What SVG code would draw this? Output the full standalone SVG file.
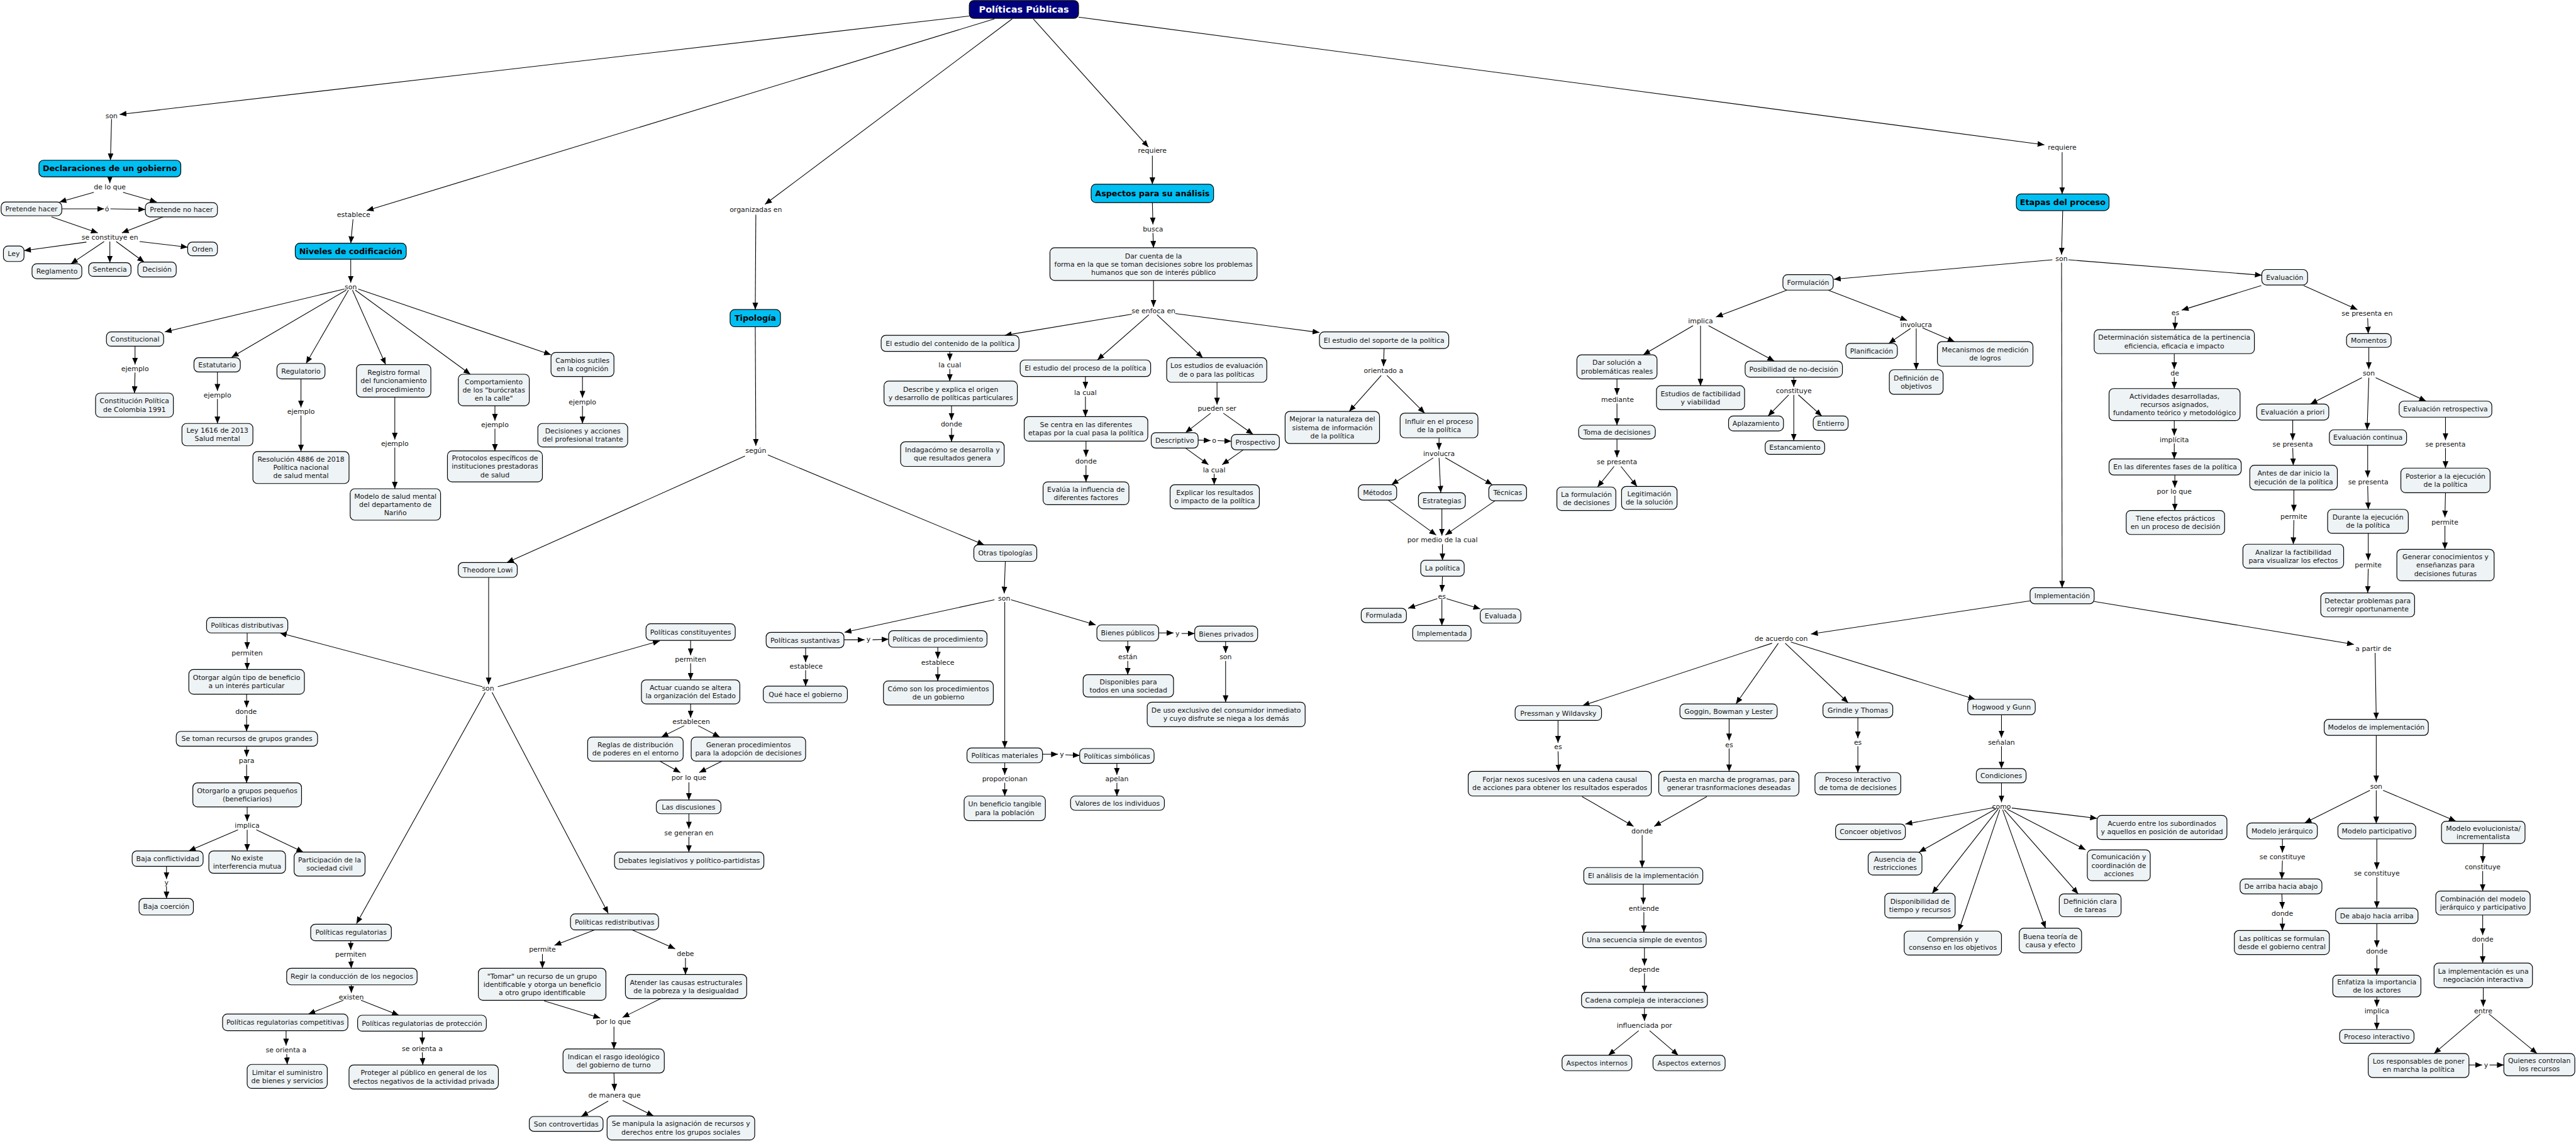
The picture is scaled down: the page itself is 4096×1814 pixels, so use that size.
<svg xmlns="http://www.w3.org/2000/svg" width="4096" height="1814" viewBox="0 0 4096 1814">
<style>
.n{fill:#eef3f5;stroke:#000;stroke-width:1.3}
.h{fill:#00bff2;stroke:#000;stroke-width:1.3}
.tt{fill:#00007e;stroke:#000;stroke-width:1.3}
text{font-family:"DejaVu Sans",Verdana,sans-serif;font-size:12px;text-anchor:middle;fill:#111}
.b{font-weight:bold;font-size:14px;fill:#000}
.w{fill:#fff;font-size:16px;font-weight:bold}
#connectors line{stroke:#000;stroke-width:1.2;marker-end:url(#a)}
</style>
<defs>
<marker id="a" markerUnits="userSpaceOnUse" markerWidth="12" markerHeight="10" refX="12" refY="5" orient="auto"><path d="M0,0 L12,5 L0,10 z" fill="#000"/></marker>
</defs>
<rect width="4096" height="1814" fill="#fff"/>
<g transform="scale(0.9098)">
<g id="connectors">
<line x1="1694" y1="28" x2="209" y2="200"/>
<line x1="1738" y1="33" x2="641" y2="368"/>
<line x1="1769" y1="33" x2="1337" y2="357"/>
<line x1="1806" y1="33" x2="2007" y2="257"/>
<line x1="1885" y1="30" x2="3573" y2="253"/>
<line x1="195" y1="208" x2="193" y2="280"/>
<line x1="192" y1="309" x2="192" y2="320"/>
<line x1="164" y1="336" x2="104" y2="353"/>
<line x1="215" y1="336" x2="274" y2="353"/>
<line x1="108" y1="365" x2="182" y2="365"/>
<line x1="193" y1="365" x2="254" y2="366"/>
<line x1="90" y1="379" x2="171" y2="407"/>
<line x1="285" y1="379" x2="213" y2="407"/>
<line x1="151" y1="423" x2="42" y2="438"/>
<line x1="182" y1="422" x2="124" y2="461"/>
<line x1="192" y1="422" x2="192" y2="459"/>
<line x1="203" y1="422" x2="252" y2="458"/>
<line x1="244" y1="422" x2="328" y2="432"/>
<line x1="617" y1="383" x2="613" y2="425"/>
<line x1="613" y1="453" x2="613" y2="494"/>
<line x1="602" y1="505" x2="288" y2="580"/>
<line x1="605" y1="507" x2="405" y2="624"/>
<line x1="609" y1="507" x2="535" y2="635"/>
<line x1="616" y1="507" x2="674" y2="637"/>
<line x1="621" y1="507" x2="822" y2="654"/>
<line x1="626" y1="505" x2="963" y2="620"/>
<line x1="236" y1="605" x2="236" y2="637"/>
<line x1="236" y1="651" x2="235" y2="687"/>
<line x1="380" y1="650" x2="380" y2="683"/>
<line x1="380" y1="697" x2="380" y2="740"/>
<line x1="526" y1="662" x2="526" y2="712"/>
<line x1="526" y1="726" x2="526" y2="789"/>
<line x1="690" y1="694" x2="690" y2="768"/>
<line x1="690" y1="782" x2="690" y2="854"/>
<line x1="865" y1="709" x2="865" y2="735"/>
<line x1="865" y1="749" x2="865" y2="788"/>
<line x1="1018" y1="658" x2="1018" y2="695"/>
<line x1="1018" y1="709" x2="1018" y2="740"/>
<line x1="1321" y1="375" x2="1320" y2="541"/>
<line x1="1320" y1="571" x2="1321" y2="779"/>
<line x1="1302" y1="797" x2="886" y2="983"/>
<line x1="1342" y1="795" x2="1720" y2="952"/>
<line x1="854" y1="1009" x2="854" y2="1196"/>
<line x1="843" y1="1200" x2="489" y2="1106"/>
<line x1="870" y1="1200" x2="1153" y2="1120"/>
<line x1="848" y1="1210" x2="623" y2="1614"/>
<line x1="860" y1="1210" x2="1063" y2="1596"/>
<line x1="432" y1="1106" x2="432" y2="1134"/>
<line x1="432" y1="1149" x2="432" y2="1170"/>
<line x1="431" y1="1213" x2="431" y2="1236"/>
<line x1="431" y1="1250" x2="431" y2="1278"/>
<line x1="431" y1="1304" x2="431" y2="1322"/>
<line x1="431" y1="1336" x2="431" y2="1368"/>
<line x1="432" y1="1410" x2="432" y2="1435"/>
<line x1="416" y1="1450" x2="330" y2="1487"/>
<line x1="432" y1="1450" x2="432" y2="1487"/>
<line x1="448" y1="1450" x2="530" y2="1489"/>
<line x1="291" y1="1514" x2="291" y2="1536"/>
<line x1="291" y1="1549" x2="291" y2="1570"/>
<line x1="1207" y1="1119" x2="1207" y2="1145"/>
<line x1="1207" y1="1159" x2="1207" y2="1188"/>
<line x1="1207" y1="1230" x2="1207" y2="1254"/>
<line x1="1196" y1="1268" x2="1156" y2="1288"/>
<line x1="1220" y1="1268" x2="1258" y2="1288"/>
<line x1="1153" y1="1330" x2="1189" y2="1350"/>
<line x1="1262" y1="1330" x2="1222" y2="1350"/>
<line x1="1204" y1="1367" x2="1204" y2="1398"/>
<line x1="1204" y1="1422" x2="1204" y2="1448"/>
<line x1="1204" y1="1462" x2="1204" y2="1489"/>
<line x1="613" y1="1644" x2="613" y2="1660"/>
<line x1="613" y1="1674" x2="614" y2="1692"/>
<line x1="614" y1="1721" x2="614" y2="1735"/>
<line x1="600" y1="1748" x2="539" y2="1772"/>
<line x1="631" y1="1748" x2="697" y2="1774"/>
<line x1="500" y1="1801" x2="500" y2="1827"/>
<line x1="501" y1="1842" x2="502" y2="1860"/>
<line x1="738" y1="1802" x2="738" y2="1825"/>
<line x1="738" y1="1839" x2="739" y2="1861"/>
<line x1="1039" y1="1625" x2="969" y2="1652"/>
<line x1="948" y1="1667" x2="948" y2="1692"/>
<line x1="1105" y1="1625" x2="1180" y2="1658"/>
<line x1="1198" y1="1674" x2="1198" y2="1703"/>
<line x1="951" y1="1749" x2="1049" y2="1779"/>
<line x1="1155" y1="1745" x2="1088" y2="1778"/>
<line x1="1073" y1="1794" x2="1073" y2="1833"/>
<line x1="1073" y1="1875" x2="1074" y2="1906"/>
<line x1="1063" y1="1924" x2="1016" y2="1951"/>
<line x1="1088" y1="1923" x2="1142" y2="1950"/>
<line x1="1757" y1="981" x2="1755" y2="1037"/>
<line x1="1738" y1="1048" x2="1476" y2="1105"/>
<line x1="1767" y1="1048" x2="1915" y2="1092"/>
<line x1="1756" y1="1052" x2="1756" y2="1307"/>
<line x1="1475" y1="1118" x2="1511" y2="1118"/>
<line x1="1525" y1="1118" x2="1553" y2="1117"/>
<line x1="1408" y1="1132" x2="1408" y2="1157"/>
<line x1="1408" y1="1171" x2="1408" y2="1199"/>
<line x1="1639" y1="1131" x2="1639" y2="1151"/>
<line x1="1639" y1="1165" x2="1639" y2="1190"/>
<line x1="2025" y1="1106" x2="2051" y2="1106"/>
<line x1="2065" y1="1107" x2="2088" y2="1107"/>
<line x1="1971" y1="1120" x2="1971" y2="1141"/>
<line x1="1971" y1="1155" x2="1971" y2="1179"/>
<line x1="2142" y1="1121" x2="2142" y2="1141"/>
<line x1="2142" y1="1155" x2="2142" y2="1227"/>
<line x1="1822" y1="1318" x2="1849" y2="1318"/>
<line x1="1862" y1="1319" x2="1887" y2="1320"/>
<line x1="1756" y1="1333" x2="1756" y2="1354"/>
<line x1="1756" y1="1368" x2="1756" y2="1391"/>
<line x1="1952" y1="1334" x2="1952" y2="1354"/>
<line x1="1952" y1="1368" x2="1952" y2="1391"/>
<line x1="2014" y1="272" x2="2014" y2="322"/>
<line x1="2014" y1="354" x2="2015" y2="392"/>
<line x1="2015" y1="407" x2="2016" y2="433"/>
<line x1="2016" y1="490" x2="2016" y2="536"/>
<line x1="1978" y1="549" x2="1756" y2="586"/>
<line x1="2008" y1="550" x2="1918" y2="629"/>
<line x1="2022" y1="550" x2="2102" y2="625"/>
<line x1="2054" y1="548" x2="2306" y2="581"/>
<line x1="1660" y1="614" x2="1660" y2="630"/>
<line x1="1660" y1="645" x2="1660" y2="666"/>
<line x1="1663" y1="709" x2="1663" y2="734"/>
<line x1="1663" y1="748" x2="1663" y2="772"/>
<line x1="1897" y1="658" x2="1897" y2="679"/>
<line x1="1897" y1="693" x2="1897" y2="728"/>
<line x1="1898" y1="771" x2="1898" y2="798"/>
<line x1="1898" y1="813" x2="1898" y2="842"/>
<line x1="2127" y1="668" x2="2127" y2="707"/>
<line x1="2116" y1="722" x2="2072" y2="756"/>
<line x1="2138" y1="722" x2="2190" y2="759"/>
<line x1="2094" y1="769" x2="2116" y2="770"/>
<line x1="2128" y1="770" x2="2152" y2="771"/>
<line x1="2072" y1="783" x2="2112" y2="812"/>
<line x1="2173" y1="786" x2="2136" y2="812"/>
<line x1="2122" y1="828" x2="2122" y2="847"/>
<line x1="2419" y1="609" x2="2418" y2="640"/>
<line x1="2414" y1="656" x2="2358" y2="719"/>
<line x1="2424" y1="656" x2="2490" y2="722"/>
<line x1="2515" y1="765" x2="2515" y2="786"/>
<line x1="2505" y1="800" x2="2432" y2="847"/>
<line x1="2515" y1="800" x2="2518" y2="861"/>
<line x1="2526" y1="800" x2="2608" y2="847"/>
<line x1="2426" y1="874" x2="2510" y2="935"/>
<line x1="2520" y1="889" x2="2520" y2="936"/>
<line x1="2613" y1="875" x2="2526" y2="935"/>
<line x1="2521" y1="951" x2="2521" y2="979"/>
<line x1="2521" y1="1007" x2="2520" y2="1034"/>
<line x1="2512" y1="1046" x2="2461" y2="1063"/>
<line x1="2520" y1="1047" x2="2520" y2="1093"/>
<line x1="2528" y1="1046" x2="2587" y2="1064"/>
<line x1="3604" y1="266" x2="3604" y2="339"/>
<line x1="3605" y1="368" x2="3603" y2="445"/>
<line x1="3587" y1="454" x2="3205" y2="488"/>
<line x1="3615" y1="454" x2="3953" y2="481"/>
<line x1="3603" y1="459" x2="3604" y2="1027"/>
<line x1="3123" y1="507" x2="2999" y2="554"/>
<line x1="3195" y1="507" x2="3333" y2="560"/>
<line x1="2959" y1="569" x2="2872" y2="620"/>
<line x1="2972" y1="569" x2="2972" y2="674"/>
<line x1="2986" y1="569" x2="3101" y2="631"/>
<line x1="2826" y1="662" x2="2826" y2="690"/>
<line x1="2826" y1="705" x2="2826" y2="743"/>
<line x1="2826" y1="767" x2="2826" y2="799"/>
<line x1="2821" y1="815" x2="2792" y2="851"/>
<line x1="2833" y1="815" x2="2861" y2="850"/>
<line x1="3135" y1="659" x2="3135" y2="676"/>
<line x1="3126" y1="690" x2="3090" y2="727"/>
<line x1="3135" y1="690" x2="3135" y2="770"/>
<line x1="3143" y1="690" x2="3184" y2="727"/>
<line x1="3339" y1="574" x2="3301" y2="600"/>
<line x1="3349" y1="574" x2="3349" y2="646"/>
<line x1="3360" y1="573" x2="3416" y2="597"/>
<line x1="3952" y1="499" x2="3813" y2="542"/>
<line x1="3802" y1="553" x2="3801" y2="576"/>
<line x1="3800" y1="618" x2="3800" y2="645"/>
<line x1="3800" y1="659" x2="3800" y2="679"/>
<line x1="3800" y1="735" x2="3800" y2="761"/>
<line x1="3800" y1="775" x2="3800" y2="802"/>
<line x1="3801" y1="830" x2="3801" y2="852"/>
<line x1="3801" y1="866" x2="3801" y2="892"/>
<line x1="4026" y1="499" x2="4120" y2="541"/>
<line x1="4138" y1="556" x2="4139" y2="583"/>
<line x1="4140" y1="607" x2="4140" y2="645"/>
<line x1="4128" y1="660" x2="4038" y2="706"/>
<line x1="4140" y1="660" x2="4137" y2="751"/>
<line x1="4152" y1="660" x2="4240" y2="701"/>
<line x1="4007" y1="734" x2="4007" y2="769"/>
<line x1="4007" y1="783" x2="4008" y2="813"/>
<line x1="4009" y1="856" x2="4009" y2="894"/>
<line x1="4009" y1="909" x2="4008" y2="951"/>
<line x1="4138" y1="778" x2="4138" y2="834"/>
<line x1="4138" y1="849" x2="4139" y2="890"/>
<line x1="4139" y1="932" x2="4139" y2="979"/>
<line x1="4139" y1="994" x2="4138" y2="1036"/>
<line x1="4274" y1="729" x2="4274" y2="769"/>
<line x1="4274" y1="783" x2="4274" y2="818"/>
<line x1="4274" y1="861" x2="4273" y2="904"/>
<line x1="4273" y1="919" x2="4273" y2="960"/>
<line x1="3548" y1="1050" x2="3165" y2="1108"/>
<line x1="3660" y1="1051" x2="4114" y2="1126"/>
<line x1="4151" y1="1141" x2="4153" y2="1257"/>
<line x1="3097" y1="1124" x2="2766" y2="1233"/>
<line x1="3108" y1="1124" x2="3034" y2="1230"/>
<line x1="3120" y1="1124" x2="3230" y2="1228"/>
<line x1="3130" y1="1122" x2="3452" y2="1222"/>
<line x1="2723" y1="1259" x2="2723" y2="1298"/>
<line x1="2723" y1="1313" x2="2724" y2="1348"/>
<line x1="3022" y1="1256" x2="3022" y2="1294"/>
<line x1="3022" y1="1308" x2="3022" y2="1348"/>
<line x1="3247" y1="1254" x2="3247" y2="1290"/>
<line x1="3247" y1="1304" x2="3247" y2="1350"/>
<line x1="3498" y1="1249" x2="3498" y2="1289"/>
<line x1="3498" y1="1304" x2="3498" y2="1343"/>
<line x1="3498" y1="1368" x2="3498" y2="1402"/>
<line x1="3486" y1="1411" x2="3330" y2="1440"/>
<line x1="3489" y1="1413" x2="3354" y2="1489"/>
<line x1="3492" y1="1414" x2="3377" y2="1561"/>
<line x1="3495" y1="1415" x2="3423" y2="1627"/>
<line x1="3500" y1="1415" x2="3575" y2="1622"/>
<line x1="3503" y1="1415" x2="3632" y2="1562"/>
<line x1="3508" y1="1414" x2="3645" y2="1485"/>
<line x1="3516" y1="1412" x2="3665" y2="1430"/>
<line x1="2765" y1="1392" x2="2855" y2="1444"/>
<line x1="2983" y1="1392" x2="2891" y2="1444"/>
<line x1="2870" y1="1459" x2="2870" y2="1516"/>
<line x1="2872" y1="1545" x2="2872" y2="1580"/>
<line x1="2873" y1="1594" x2="2873" y2="1629"/>
<line x1="2874" y1="1656" x2="2874" y2="1687"/>
<line x1="2874" y1="1701" x2="2874" y2="1734"/>
<line x1="2874" y1="1761" x2="2874" y2="1784"/>
<line x1="2864" y1="1801" x2="2811" y2="1844"/>
<line x1="2883" y1="1801" x2="2933" y2="1844"/>
<line x1="4153" y1="1285" x2="4153" y2="1367"/>
<line x1="4142" y1="1381" x2="4028" y2="1438"/>
<line x1="4153" y1="1381" x2="4153" y2="1439"/>
<line x1="4165" y1="1381" x2="4292" y2="1435"/>
<line x1="3989" y1="1466" x2="3989" y2="1490"/>
<line x1="3989" y1="1504" x2="3988" y2="1536"/>
<line x1="3988" y1="1562" x2="3989" y2="1588"/>
<line x1="3989" y1="1603" x2="3989" y2="1626"/>
<line x1="4154" y1="1466" x2="4154" y2="1519"/>
<line x1="4154" y1="1533" x2="4154" y2="1587"/>
<line x1="4154" y1="1614" x2="4154" y2="1655"/>
<line x1="4154" y1="1669" x2="4154" y2="1704"/>
<line x1="4154" y1="1742" x2="4154" y2="1759"/>
<line x1="4154" y1="1773" x2="4154" y2="1799"/>
<line x1="4340" y1="1474" x2="4339" y2="1508"/>
<line x1="4339" y1="1522" x2="4339" y2="1557"/>
<line x1="4339" y1="1599" x2="4339" y2="1634"/>
<line x1="4339" y1="1648" x2="4339" y2="1683"/>
<line x1="4340" y1="1726" x2="4340" y2="1759"/>
<line x1="4335" y1="1772" x2="4254" y2="1841"/>
<line x1="4350" y1="1772" x2="4434" y2="1841"/>
<line x1="4315" y1="1861" x2="4338" y2="1861"/>
<line x1="4351" y1="1861" x2="4376" y2="1861"/>
</g>
<g id="labels">
<text x="195" y="206.3">son</text>
<text x="192" y="331.3">de lo que</text>
<text x="187" y="369.3">ó</text>
<text x="192" y="418.3">se constituye en</text>
<text x="618" y="379.3">establece</text>
<text x="613" y="505.3">son</text>
<text x="236" y="648.3">ejemplo</text>
<text x="380" y="694.3">ejemplo</text>
<text x="526" y="723.3">ejemplo</text>
<text x="690" y="779.3">ejemplo</text>
<text x="865" y="746.3">ejemplo</text>
<text x="1018" y="706.3">ejemplo</text>
<text x="1321" y="370.3">organizadas en</text>
<text x="1321" y="791.3">según</text>
<text x="853" y="1207.3">son</text>
<text x="432" y="1145.3">permiten</text>
<text x="430" y="1247.3">donde</text>
<text x="431" y="1333.3">para</text>
<text x="432" y="1446.3">implica</text>
<text x="291" y="1546.3">y</text>
<text x="1207" y="1156.3">permiten</text>
<text x="1208" y="1265.3">establecen</text>
<text x="1204" y="1363.3">por lo que</text>
<text x="1204" y="1459.3">se generan en</text>
<text x="613" y="1671.3">permiten</text>
<text x="614" y="1746.3">existen</text>
<text x="500" y="1839.3">se orienta a</text>
<text x="738" y="1836.3">se orienta a</text>
<text x="948" y="1663.3">permite</text>
<text x="1198" y="1670.3">debe</text>
<text x="1072" y="1789.3">por lo que</text>
<text x="1074" y="1918.3">de manera que</text>
<text x="1755" y="1049.3">son</text>
<text x="1518" y="1121.3">y</text>
<text x="1409" y="1168.3">establece</text>
<text x="1639" y="1162.3">establece</text>
<text x="2058" y="1111.3">y</text>
<text x="1971" y="1152.3">están</text>
<text x="2142" y="1152.3">son</text>
<text x="1856" y="1322.3">y</text>
<text x="1756" y="1365.3">proporcionan</text>
<text x="1952" y="1365.3">apelan</text>
<text x="2014" y="267.3">requiere</text>
<text x="2015" y="404.3">busca</text>
<text x="2016" y="547.3">se enfoca en</text>
<text x="1660" y="642.3">la cual</text>
<text x="1663" y="745.3">donde</text>
<text x="1897" y="690.3">la cual</text>
<text x="1898" y="810.3">donde</text>
<text x="2127" y="718.3">pueden ser</text>
<text x="2122" y="774.3">o</text>
<text x="2122" y="825.3">la cual</text>
<text x="2418" y="652.3">orientado a</text>
<text x="2515" y="797.3">involucra</text>
<text x="2521" y="947.3">por medio de la cual</text>
<text x="2520" y="1046.3">es</text>
<text x="3604" y="261.3">requiere</text>
<text x="3603" y="456.3">son</text>
<text x="2972" y="565.3">implica</text>
<text x="3349" y="571.3">involucra</text>
<text x="2827" y="702.3">mediante</text>
<text x="2826" y="811.3">se presenta</text>
<text x="3135" y="687.3">constituye</text>
<text x="3802" y="550.3">es</text>
<text x="4137" y="552.3">se presenta en</text>
<text x="3801" y="656.3">de</text>
<text x="4140" y="656.3">son</text>
<text x="3800" y="772.3">implícita</text>
<text x="3800" y="863.3">por lo que</text>
<text x="4007" y="780.3">se presenta</text>
<text x="4009" y="906.3">permite</text>
<text x="4139" y="846.3">se presenta</text>
<text x="4139" y="991.3">permite</text>
<text x="4274" y="780.3">se presenta</text>
<text x="4273" y="916.3">permite</text>
<text x="3113" y="1120.3">de acuerdo con</text>
<text x="4148" y="1137.3">a partir de</text>
<text x="2723" y="1309.3">es</text>
<text x="3022" y="1305.3">es</text>
<text x="3247" y="1301.3">es</text>
<text x="3498" y="1301.3">señalan</text>
<text x="3498" y="1413.3">como</text>
<text x="2870" y="1456.3">donde</text>
<text x="2873" y="1591.3">entiende</text>
<text x="2874" y="1698.3">depende</text>
<text x="2874" y="1796.3">influenciada por</text>
<text x="4153" y="1378.3">son</text>
<text x="3989" y="1501.3">se constituye</text>
<text x="3989" y="1600.3">donde</text>
<text x="4154" y="1530.3">se constituye</text>
<text x="4154" y="1666.3">donde</text>
<text x="4154" y="1770.3">implica</text>
<text x="4339" y="1519.3">constituye</text>
<text x="4339" y="1645.3">donde</text>
<text x="4340" y="1770.3">entre</text>
<text x="4345" y="1865.3">y</text>
</g>
<g id="title"><rect class="tt" x="1694" y="1" width="191" height="31" rx="8"/><text class="w" x="1789.5" y="22.5">Políticas Públicas</text></g>
<g id="declaraciones"><rect class="h" x="68" y="280" width="248" height="29" rx="8"/><text class="b" x="192" y="299.5">Declaraciones de un gobierno</text></g>
<g id="niveles"><rect class="h" x="516" y="425" width="194" height="28" rx="8"/><text class="b" x="613" y="444">Niveles de codificación</text></g>
<g id="tipologia"><rect class="h" x="1276" y="541" width="88" height="30" rx="8"/><text class="b" x="1320" y="561">Tipología</text></g>
<g id="aspectos"><rect class="h" x="1907" y="322" width="214" height="32" rx="8"/><text class="b" x="2014" y="343">Aspectos para su análisis</text></g>
<g id="etapas"><rect class="h" x="3524" y="339" width="162" height="29" rx="8"/><text class="b" x="3605" y="358.5">Etapas del proceso</text></g>
<g id="pretende-hacer"><rect class="n" x="2" y="353" width="106" height="24" rx="8"/><text x="55" y="369.3">Pretende hacer</text></g>
<g id="pretende-no"><rect class="n" x="254" y="354" width="126" height="25" rx="8"/><text x="317" y="370.8">Pretende no hacer</text></g>
<g id="ley"><rect class="n" x="6" y="430" width="36" height="27" rx="8"/><text x="24" y="447.8">Ley</text></g>
<g id="reglamento"><rect class="n" x="56" y="461" width="87" height="26" rx="8"/><text x="99.5" y="478.3">Reglamento</text></g>
<g id="sentencia"><rect class="n" x="155" y="459" width="74" height="24" rx="8"/><text x="192" y="475.3">Sentencia</text></g>
<g id="decision"><rect class="n" x="241" y="458" width="67" height="26" rx="8"/><text x="274.5" y="475.3">Decisión</text></g>
<g id="orden"><rect class="n" x="328" y="423" width="52" height="24" rx="8"/><text x="354" y="439.3">Orden</text></g>
<g id="constitucional"><rect class="n" x="186" y="580" width="100" height="25" rx="8"/><text x="236" y="596.8">Constitucional</text></g>
<g id="estatutario"><rect class="n" x="339" y="625" width="81" height="25" rx="8"/><text x="379.5" y="641.8">Estatutario</text></g>
<g id="regulatorio"><rect class="n" x="484" y="635" width="84" height="27" rx="8"/><text x="526" y="652.8">Regulatorio</text></g>
<g id="registro"><rect class="n" x="623" y="637" width="130" height="57" rx="8"/><text><tspan x="688" y="655.3">Registro formal</tspan><tspan x="688" y="669.8">del funcionamiento</tspan><tspan x="688" y="684.3">del procedimiento</tspan></text></g>
<g id="comportamiento"><rect class="n" x="801" y="654" width="124" height="55" rx="8"/><text><tspan x="863" y="671.3">Comportamiento</tspan><tspan x="863" y="685.8">de los "burócratas</tspan><tspan x="863" y="700.3">en la calle"</tspan></text></g>
<g id="cambios"><rect class="n" x="963" y="616" width="110" height="42" rx="8"/><text><tspan x="1018" y="634">Cambios sutiles</tspan><tspan x="1018" y="648.5">en la cognición</tspan></text></g>
<g id="constitucion-pol"><rect class="n" x="167" y="687" width="136" height="42" rx="8"/><text><tspan x="235" y="705">Constitución Política</tspan><tspan x="235" y="719.5">de Colombia 1991</tspan></text></g>
<g id="ley1616"><rect class="n" x="318" y="740" width="124" height="39" rx="8"/><text><tspan x="380" y="756.5">Ley 1616 de 2013</tspan><tspan x="380" y="771">Salud mental</tspan></text></g>
<g id="resolucion"><rect class="n" x="442" y="789" width="168" height="56" rx="8"/><text><tspan x="526" y="806.8">Resolución 4886 de 2018</tspan><tspan x="526" y="821.3">Política nacional</tspan><tspan x="526" y="835.8">de salud mental</tspan></text></g>
<g id="modelo-narino"><rect class="n" x="612" y="854" width="158" height="55" rx="8"/><text><tspan x="691" y="871.3">Modelo de salud mental</tspan><tspan x="691" y="885.8">del departamento de</tspan><tspan x="691" y="900.3">Nariño</tspan></text></g>
<g id="protocolos"><rect class="n" x="782" y="788" width="166" height="54" rx="8"/><text><tspan x="865" y="804.8">Protocolos específicos de</tspan><tspan x="865" y="819.3">instituciones prestadoras</tspan><tspan x="865" y="833.8">de salud</tspan></text></g>
<g id="decisiones-acc"><rect class="n" x="940" y="740" width="157" height="41" rx="8"/><text><tspan x="1018.5" y="757.5">Decisiones y acciones</tspan><tspan x="1018.5" y="772">del profesional tratante</tspan></text></g>
<g id="theodore"><rect class="n" x="801" y="983" width="103" height="26" rx="8"/><text x="852.5" y="1000.3">Theodore Lowi</text></g>
<g id="distributivas"><rect class="n" x="361" y="1079" width="142" height="27" rx="8"/><text x="432" y="1096.8">Políticas distributivas</text></g>
<g id="otorgar"><rect class="n" x="330" y="1170" width="202" height="43" rx="8"/><text><tspan x="431" y="1188.5">Otorgar algún tipo de beneficio</tspan><tspan x="431" y="1203">a un interés particular</tspan></text></g>
<g id="se-toman"><rect class="n" x="308" y="1278" width="247" height="26" rx="8"/><text x="431.5" y="1295.3">Se toman recursos de grupos grandes</text></g>
<g id="otorgarlo"><rect class="n" x="337" y="1368" width="190" height="42" rx="8"/><text><tspan x="432" y="1386">Otorgarlo a grupos pequeños</tspan><tspan x="432" y="1400.5">(beneficiarios)</tspan></text></g>
<g id="baja-conf"><rect class="n" x="231" y="1487" width="124" height="27" rx="8"/><text x="293" y="1504.8">Baja conflictividad</text></g>
<g id="no-existe"><rect class="n" x="365" y="1487" width="134" height="39" rx="8"/><text><tspan x="432" y="1503.5">No existe</tspan><tspan x="432" y="1518">interferencia mutua</tspan></text></g>
<g id="participacion"><rect class="n" x="514" y="1489" width="124" height="42" rx="8"/><text><tspan x="576" y="1507">Participación de la</tspan><tspan x="576" y="1521.5">sociedad civil</tspan></text></g>
<g id="baja-coer"><rect class="n" x="243" y="1570" width="95" height="29" rx="8"/><text x="290.5" y="1588.8">Baja coerción</text></g>
<g id="constituyentes"><rect class="n" x="1129" y="1090" width="156" height="29" rx="8"/><text x="1207" y="1108.8">Políticas constituyentes</text></g>
<g id="actuar"><rect class="n" x="1121" y="1188" width="172" height="42" rx="8"/><text><tspan x="1207" y="1206">Actuar cuando se altera</tspan><tspan x="1207" y="1220.5">la organización del Estado</tspan></text></g>
<g id="reglas"><rect class="n" x="1027" y="1288" width="167" height="42" rx="8"/><text><tspan x="1110.5" y="1306">Reglas de distribución</tspan><tspan x="1110.5" y="1320.5">de poderes en el entorno</tspan></text></g>
<g id="generan"><rect class="n" x="1208" y="1288" width="200" height="42" rx="8"/><text><tspan x="1308" y="1306">Generan procedimientos</tspan><tspan x="1308" y="1320.5">para la adopción de decisiones</tspan></text></g>
<g id="discusiones"><rect class="n" x="1147" y="1398" width="113" height="24" rx="8"/><text x="1203.5" y="1414.3">Las discusiones</text></g>
<g id="debates"><rect class="n" x="1074" y="1489" width="261" height="30" rx="8"/><text x="1204.5" y="1508.3">Debates legislativos y político-partidistas</text></g>
<g id="regulatorias"><rect class="n" x="543" y="1615" width="141" height="29" rx="8"/><text x="613.5" y="1633.8">Políticas regulatorias</text></g>
<g id="regir"><rect class="n" x="501" y="1692" width="228" height="29" rx="8"/><text x="615" y="1710.8">Regir la conducción de los negocios</text></g>
<g id="reg-comp"><rect class="n" x="389" y="1772" width="219" height="29" rx="8"/><text x="498.5" y="1790.8">Políticas regulatorias competitivas</text></g>
<g id="reg-prot"><rect class="n" x="625" y="1774" width="225" height="28" rx="8"/><text x="737.5" y="1792.3">Políticas regulatorias de protección</text></g>
<g id="limitar"><rect class="n" x="432" y="1860" width="140" height="42" rx="8"/><text><tspan x="502" y="1878">Limitar el suministro</tspan><tspan x="502" y="1892.5">de bienes y servicios</tspan></text></g>
<g id="proteger"><rect class="n" x="610" y="1861" width="261" height="42" rx="8"/><text><tspan x="740.5" y="1879">Proteger al público en general de los</tspan><tspan x="740.5" y="1893.5">efectos negativos de la actividad privada</tspan></text></g>
<g id="redistributivas"><rect class="n" x="997" y="1597" width="154" height="28" rx="8"/><text x="1074" y="1615.3">Políticas redistributivas</text></g>
<g id="tomar"><rect class="n" x="836" y="1692" width="223" height="56" rx="8"/><text><tspan x="947.5" y="1709.8">"Tomar" un recurso de un grupo</tspan><tspan x="947.5" y="1724.3">identificable y otorga un beneficio</tspan><tspan x="947.5" y="1738.8">a otro grupo identificable</tspan></text></g>
<g id="atender"><rect class="n" x="1093" y="1703" width="212" height="42" rx="8"/><text><tspan x="1199" y="1721">Atender las causas estructurales</tspan><tspan x="1199" y="1735.5">de la pobreza y la desigualdad</tspan></text></g>
<g id="indican"><rect class="n" x="984" y="1833" width="177" height="42" rx="8"/><text><tspan x="1072.5" y="1851">Indican el rasgo ideológico</tspan><tspan x="1072.5" y="1865.5">del gobierno de turno</tspan></text></g>
<g id="son-contro"><rect class="n" x="925" y="1951" width="129" height="26" rx="8"/><text x="989.5" y="1968.3">Son controvertidas</text></g>
<g id="manipula"><rect class="n" x="1061" y="1950" width="258" height="42" rx="8"/><text><tspan x="1190" y="1968">Se manipula la asignación de recursos y</tspan><tspan x="1190" y="1982.5">derechos entre los grupos sociales</tspan></text></g>
<g id="otras"><rect class="n" x="1702" y="952" width="110" height="29" rx="8"/><text x="1757" y="970.8">Otras tipologías</text></g>
<g id="sustantivas"><rect class="n" x="1339" y="1105" width="136" height="27" rx="8"/><text x="1407" y="1122.8">Políticas sustantivas</text></g>
<g id="procedimiento"><rect class="n" x="1553" y="1102" width="172" height="29" rx="8"/><text x="1639" y="1120.8">Políticas de procedimiento</text></g>
<g id="que-hace"><rect class="n" x="1334" y="1199" width="147" height="29" rx="8"/><text x="1407.5" y="1217.8">Qué hace el gobierno</text></g>
<g id="como-son"><rect class="n" x="1544" y="1190" width="192" height="42" rx="8"/><text><tspan x="1640" y="1208">Cómo son los procedimientos</tspan><tspan x="1640" y="1222.5">de un gobierno</tspan></text></g>
<g id="bienes-pub"><rect class="n" x="1917" y="1092" width="108" height="28" rx="8"/><text x="1971" y="1110.3">Bienes públicos</text></g>
<g id="bienes-priv"><rect class="n" x="2088" y="1094" width="110" height="27" rx="8"/><text x="2143" y="1111.8">Bienes privados</text></g>
<g id="disponibles"><rect class="n" x="1893" y="1179" width="158" height="39" rx="8"/><text><tspan x="1972" y="1195.5">Disponibles para</tspan><tspan x="1972" y="1210">todos en una sociedad</tspan></text></g>
<g id="uso-exclusivo"><rect class="n" x="2005" y="1227" width="276" height="43" rx="8"/><text><tspan x="2143" y="1245.5">De uso exclusivo del consumidor inmediato</tspan><tspan x="2143" y="1260">y cuyo disfrute se niega a los demás</tspan></text></g>
<g id="materiales"><rect class="n" x="1690" y="1307" width="132" height="26" rx="8"/><text x="1756" y="1324.3">Políticas materiales</text></g>
<g id="simbolicas"><rect class="n" x="1887" y="1308" width="130" height="26" rx="8"/><text x="1952" y="1325.3">Políticas simbólicas</text></g>
<g id="beneficio"><rect class="n" x="1685" y="1391" width="142" height="43" rx="8"/><text><tspan x="1756" y="1409.5">Un beneficio tangible</tspan><tspan x="1756" y="1424">para la población</tspan></text></g>
<g id="valores"><rect class="n" x="1871" y="1391" width="164" height="25" rx="8"/><text x="1953" y="1407.8">Valores de los individuos</text></g>
<g id="dar-cuenta"><rect class="n" x="1835" y="433" width="362" height="57" rx="8"/><text><tspan x="2016" y="451.3">Dar cuenta de la</tspan><tspan x="2016" y="465.8">forma en la que se toman decisiones sobre los problemas</tspan><tspan x="2016" y="480.3">humanos que son de interés público</tspan></text></g>
<g id="contenido"><rect class="n" x="1540" y="586" width="241" height="28" rx="8"/><text x="1660.5" y="604.3">El estudio del contenido de la política</text></g>
<g id="proceso"><rect class="n" x="1783" y="629" width="228" height="29" rx="8"/><text x="1897" y="647.8">El estudio del proceso de la política</text></g>
<g id="evaluacion-est"><rect class="n" x="2039" y="625" width="175" height="43" rx="8"/><text><tspan x="2126.5" y="643.5">Los estudios de evaluación</tspan><tspan x="2126.5" y="658">de o para las políticas</tspan></text></g>
<g id="soporte"><rect class="n" x="2306" y="580" width="226" height="29" rx="8"/><text x="2419" y="598.8">El estudio del soporte de la política</text></g>
<g id="describe"><rect class="n" x="1545" y="666" width="233" height="43" rx="8"/><text><tspan x="1661.5" y="684.5">Describe y explica el origen</tspan><tspan x="1661.5" y="699">y desarrollo de políticas particulares</tspan></text></g>
<g id="indaga"><rect class="n" x="1574" y="772" width="181" height="43" rx="8"/><text><tspan x="1664.5" y="790.5">Indagacómo se desarrolla y</tspan><tspan x="1664.5" y="805">que resultados genera</tspan></text></g>
<g id="se-centra"><rect class="n" x="1790" y="728" width="216" height="43" rx="8"/><text><tspan x="1898" y="746.5">Se centra en las diferentes</tspan><tspan x="1898" y="761">etapas por la cual pasa la política</tspan></text></g>
<g id="evalua"><rect class="n" x="1823" y="842" width="150" height="40" rx="8"/><text><tspan x="1898" y="859">Evalúa la influencia de</tspan><tspan x="1898" y="873.5">diferentes factores</tspan></text></g>
<g id="descriptivo"><rect class="n" x="2012" y="756" width="82" height="27" rx="8"/><text x="2053" y="773.8">Descriptivo</text></g>
<g id="prospectivo"><rect class="n" x="2152" y="759" width="84" height="27" rx="8"/><text x="2194" y="776.8">Prospectivo</text></g>
<g id="explicar"><rect class="n" x="2045" y="847" width="156" height="42" rx="8"/><text><tspan x="2123" y="865">Explicar los resultados</tspan><tspan x="2123" y="879.5">o impacto de la política</tspan></text></g>
<g id="mejorar"><rect class="n" x="2246" y="719" width="165" height="56" rx="8"/><text><tspan x="2328.5" y="736.8">Mejorar la naturaleza del</tspan><tspan x="2328.5" y="751.3">sistema de información</tspan><tspan x="2328.5" y="765.8">de la política</tspan></text></g>
<g id="influir"><rect class="n" x="2447" y="722" width="136" height="43" rx="8"/><text><tspan x="2515" y="740.5">Influir en el proceso</tspan><tspan x="2515" y="755">de la política</tspan></text></g>
<g id="metodos"><rect class="n" x="2374" y="847" width="67" height="27" rx="8"/><text x="2407.5" y="864.8">Métodos</text></g>
<g id="estrategias"><rect class="n" x="2479" y="861" width="82" height="28" rx="8"/><text x="2520" y="879.3">Estrategias</text></g>
<g id="tecnicas"><rect class="n" x="2602" y="847" width="66" height="28" rx="8"/><text x="2635" y="865.3">Técnicas</text></g>
<g id="la-politica"><rect class="n" x="2483" y="979" width="76" height="28" rx="8"/><text x="2521" y="997.3">La política</text></g>
<g id="formulada"><rect class="n" x="2379" y="1063" width="79" height="25" rx="8"/><text x="2418.5" y="1079.8">Formulada</text></g>
<g id="implementada"><rect class="n" x="2469" y="1093" width="102" height="27" rx="8"/><text x="2520" y="1110.8">Implementada</text></g>
<g id="evaluada"><rect class="n" x="2587" y="1064" width="71" height="25" rx="8"/><text x="2622.5" y="1080.8">Evaluada</text></g>
<g id="formulacion"><rect class="n" x="3116" y="480" width="88" height="27" rx="8"/><text x="3160" y="497.8">Formulación</text></g>
<g id="dar-solucion"><rect class="n" x="2756" y="620" width="140" height="42" rx="8"/><text><tspan x="2826" y="638">Dar solución a</tspan><tspan x="2826" y="652.5">problemáticas reales</tspan></text></g>
<g id="estudios-fact"><rect class="n" x="2895" y="674" width="154" height="42" rx="8"/><text><tspan x="2972" y="692">Estudios de factibilidad</tspan><tspan x="2972" y="706.5">y viabilidad</tspan></text></g>
<g id="no-decision"><rect class="n" x="3050" y="631" width="170" height="28" rx="8"/><text x="3135" y="649.3">Posibilidad de no-decisión</text></g>
<g id="toma-dec"><rect class="n" x="2759" y="743" width="134" height="24" rx="8"/><text x="2826" y="759.3">Toma de decisiones</text></g>
<g id="formulacion-dec"><rect class="n" x="2721" y="851" width="103" height="41" rx="8"/><text><tspan x="2772.5" y="868.5">La formulación</tspan><tspan x="2772.5" y="883">de decisiones</tspan></text></g>
<g id="legitimacion"><rect class="n" x="2834" y="850" width="97" height="40" rx="8"/><text><tspan x="2882.5" y="867">Legitimación</tspan><tspan x="2882.5" y="881.5">de la solución</tspan></text></g>
<g id="aplazamiento"><rect class="n" x="3021" y="727" width="96" height="26" rx="8"/><text x="3069" y="744.3">Aplazamiento</text></g>
<g id="entierro"><rect class="n" x="3169" y="727" width="61" height="25" rx="8"/><text x="3199.5" y="743.8">Entierro</text></g>
<g id="estancamiento"><rect class="n" x="3085" y="770" width="104" height="24" rx="8"/><text x="3137" y="786.3">Estancamiento</text></g>
<g id="planificacion"><rect class="n" x="3226" y="600" width="90" height="26" rx="8"/><text x="3271" y="617.3">Planificación</text></g>
<g id="definicion-obj"><rect class="n" x="3302" y="646" width="94" height="43" rx="8"/><text><tspan x="3349" y="664.5">Definición de</tspan><tspan x="3349" y="679">objetivos</tspan></text></g>
<g id="mecanismos"><rect class="n" x="3386" y="597" width="167" height="43" rx="8"/><text><tspan x="3469.5" y="615.5">Mecanismos de medición</tspan><tspan x="3469.5" y="630">de logros</tspan></text></g>
<g id="evaluacion"><rect class="n" x="3953" y="471" width="80" height="27" rx="8"/><text x="3993" y="488.8">Evaluación</text></g>
<g id="determinacion"><rect class="n" x="3660" y="576" width="280" height="42" rx="8"/><text><tspan x="3800" y="594">Determinación sistemática de la pertinencia</tspan><tspan x="3800" y="608.5">eficiencia, eficacia e impacto</tspan></text></g>
<g id="actividades"><rect class="n" x="3686" y="679" width="229" height="56" rx="8"/><text><tspan x="3800.5" y="696.8">Actividades desarrolladas,</tspan><tspan x="3800.5" y="711.3">recursos asignados,</tspan><tspan x="3800.5" y="725.8">fundamento teórico y metodológico</tspan></text></g>
<g id="en-las-fases"><rect class="n" x="3686" y="802" width="231" height="28" rx="8"/><text x="3801.5" y="820.3">En las diferentes fases de la política</text></g>
<g id="tiene-efectos"><rect class="n" x="3716" y="892" width="172" height="42" rx="8"/><text><tspan x="3802" y="910">Tiene efectos prácticos</tspan><tspan x="3802" y="924.5">en un proceso de decisión</tspan></text></g>
<g id="momentos"><rect class="n" x="4101" y="583" width="78" height="24" rx="8"/><text x="4140" y="599.3">Momentos</text></g>
<g id="ev-priori"><rect class="n" x="3944" y="706" width="126" height="28" rx="8"/><text x="4007" y="724.3">Evaluación a priori</text></g>
<g id="ev-continua"><rect class="n" x="4071" y="751" width="135" height="27" rx="8"/><text x="4138.5" y="768.8">Evaluación continua</text></g>
<g id="ev-retro"><rect class="n" x="4193" y="701" width="162" height="28" rx="8"/><text x="4274" y="719.3">Evaluación retrospectiva</text></g>
<g id="antes"><rect class="n" x="3932" y="813" width="153" height="43" rx="8"/><text><tspan x="4008.5" y="831.5">Antes de dar inicio la</tspan><tspan x="4008.5" y="846">ejecución de la política</tspan></text></g>
<g id="analizar"><rect class="n" x="3920" y="951" width="176" height="42" rx="8"/><text><tspan x="4008" y="969">Analizar la factibilidad</tspan><tspan x="4008" y="983.5">para visualizar los efectos</tspan></text></g>
<g id="durante"><rect class="n" x="4068" y="890" width="141" height="42" rx="8"/><text><tspan x="4138.5" y="908">Durante la ejecución</tspan><tspan x="4138.5" y="922.5">de la política</tspan></text></g>
<g id="detectar"><rect class="n" x="4056" y="1036" width="164" height="42" rx="8"/><text><tspan x="4138" y="1054">Detectar problemas para</tspan><tspan x="4138" y="1068.5">corregir oportunamente</tspan></text></g>
<g id="posterior"><rect class="n" x="4196" y="818" width="156" height="43" rx="8"/><text><tspan x="4274" y="836.5">Posterior a la ejecución</tspan><tspan x="4274" y="851">de la política</tspan></text></g>
<g id="generar"><rect class="n" x="4189" y="960" width="170" height="55" rx="8"/><text><tspan x="4274" y="977.3">Generar conocimientos y</tspan><tspan x="4274" y="991.8">enseñanzas para</tspan><tspan x="4274" y="1006.3">decisiones futuras</tspan></text></g>
<g id="implementacion"><rect class="n" x="3548" y="1027" width="112" height="28" rx="8"/><text x="3604" y="1045.3">Implementación</text></g>
<g id="pressman"><rect class="n" x="2648" y="1233" width="151" height="26" rx="8"/><text x="2723.5" y="1250.3">Pressman y Wildavsky</text></g>
<g id="goggin"><rect class="n" x="2936" y="1230" width="170" height="26" rx="8"/><text x="3021" y="1247.3">Goggin, Bowman y Lester</text></g>
<g id="grindle"><rect class="n" x="3186" y="1228" width="122" height="26" rx="8"/><text x="3247" y="1245.3">Grindle y Thomas</text></g>
<g id="hogwood"><rect class="n" x="3439" y="1222" width="118" height="27" rx="8"/><text x="3498" y="1239.8">Hogwood y Gunn</text></g>
<g id="forjar"><rect class="n" x="2566" y="1348" width="320" height="43" rx="8"/><text><tspan x="2726" y="1366.5">Forjar nexos sucesivos en una cadena causal</tspan><tspan x="2726" y="1381">de acciones para obtener los resultados esperados</tspan></text></g>
<g id="puesta"><rect class="n" x="2899" y="1348" width="245" height="43" rx="8"/><text><tspan x="3021.5" y="1366.5">Puesta en marcha de programas, para</tspan><tspan x="3021.5" y="1381">generar trasnformaciones deseadas</tspan></text></g>
<g id="proceso-int-dec"><rect class="n" x="3172" y="1350" width="150" height="39" rx="8"/><text><tspan x="3247" y="1366.5">Proceso interactivo</tspan><tspan x="3247" y="1381">de toma de decisiones</tspan></text></g>
<g id="condiciones"><rect class="n" x="3454" y="1343" width="87" height="25" rx="8"/><text x="3497.5" y="1359.8">Condiciones</text></g>
<g id="analisis-impl"><rect class="n" x="2768" y="1516" width="208" height="29" rx="8"/><text x="2872" y="1534.8">El análisis de la implementación</text></g>
<g id="secuencia"><rect class="n" x="2766" y="1629" width="216" height="27" rx="8"/><text x="2874" y="1646.8">Una secuencia simple de eventos</text></g>
<g id="cadena"><rect class="n" x="2764" y="1734" width="220" height="27" rx="8"/><text x="2874" y="1751.8">Cadena compleja de interacciones</text></g>
<g id="asp-int"><rect class="n" x="2730" y="1844" width="122" height="27" rx="8"/><text x="2791" y="1861.8">Aspectos internos</text></g>
<g id="asp-ext"><rect class="n" x="2889" y="1844" width="126" height="27" rx="8"/><text x="2952" y="1861.8">Aspectos externos</text></g>
<g id="concoer"><rect class="n" x="3208" y="1440" width="122" height="27" rx="8"/><text x="3269" y="1457.8">Concoer objetivos</text></g>
<g id="ausencia"><rect class="n" x="3265" y="1489" width="94" height="40" rx="8"/><text><tspan x="3312" y="1506">Ausencia de</tspan><tspan x="3312" y="1520.5">restricciones</tspan></text></g>
<g id="disponibilidad"><rect class="n" x="3294" y="1561" width="123" height="43" rx="8"/><text><tspan x="3355.5" y="1579.5">Disponibilidad de</tspan><tspan x="3355.5" y="1594">tiempo y recursos</tspan></text></g>
<g id="comprension"><rect class="n" x="3328" y="1627" width="170" height="42" rx="8"/><text><tspan x="3413" y="1645">Comprensión y</tspan><tspan x="3413" y="1659.5">consenso en los objetivos</tspan></text></g>
<g id="buena-teoria"><rect class="n" x="3529" y="1622" width="109" height="43" rx="8"/><text><tspan x="3583.5" y="1640.5">Buena teoría de</tspan><tspan x="3583.5" y="1655">causa y efecto</tspan></text></g>
<g id="definicion-clara"><rect class="n" x="3599" y="1562" width="108" height="40" rx="8"/><text><tspan x="3653" y="1579">Definición clara</tspan><tspan x="3653" y="1593.5">de tareas</tspan></text></g>
<g id="comunicacion"><rect class="n" x="3648" y="1485" width="110" height="54" rx="8"/><text><tspan x="3703" y="1501.8">Comunicación y</tspan><tspan x="3703" y="1516.3">coordinación de</tspan><tspan x="3703" y="1530.8">acciones</tspan></text></g>
<g id="acuerdo"><rect class="n" x="3665" y="1425" width="227" height="42" rx="8"/><text><tspan x="3778.5" y="1443">Acuerdo entre los subordinados</tspan><tspan x="3778.5" y="1457.5">y aquellos en posición de autoridad</tspan></text></g>
<g id="modelos-impl"><rect class="n" x="4062" y="1257" width="182" height="28" rx="8"/><text x="4153" y="1275.3">Modelos de implementación</text></g>
<g id="jerarquico"><rect class="n" x="3927" y="1438" width="123" height="28" rx="8"/><text x="3988.5" y="1456.3">Modelo jerárquico</text></g>
<g id="participativo"><rect class="n" x="4086" y="1439" width="136" height="27" rx="8"/><text x="4154" y="1456.8">Modelo participativo</text></g>
<g id="evolucionista"><rect class="n" x="4267" y="1435" width="146" height="39" rx="8"/><text><tspan x="4340" y="1451.5">Modelo evolucionista/</tspan><tspan x="4340" y="1466">incrementalista</tspan></text></g>
<g id="arriba-abajo"><rect class="n" x="3915" y="1536" width="143" height="26" rx="8"/><text x="3986.5" y="1553.3">De arriba hacia abajo</text></g>
<g id="las-politicas"><rect class="n" x="3905" y="1626" width="166" height="42" rx="8"/><text><tspan x="3988" y="1644">Las políticas se formulan</tspan><tspan x="3988" y="1658.5">desde el gobierno central</tspan></text></g>
<g id="abajo-arriba"><rect class="n" x="4082" y="1587" width="144" height="27" rx="8"/><text x="4154" y="1604.8">De abajo hacia arriba</text></g>
<g id="enfatiza"><rect class="n" x="4077" y="1704" width="154" height="38" rx="8"/><text><tspan x="4154" y="1720">Enfatiza la importancia</tspan><tspan x="4154" y="1734.5">de los actores</tspan></text></g>
<g id="proceso-interactivo"><rect class="n" x="4089" y="1799" width="130" height="24" rx="8"/><text x="4154" y="1815.3">Proceso interactivo</text></g>
<g id="combinacion"><rect class="n" x="4257" y="1557" width="165" height="42" rx="8"/><text><tspan x="4339.5" y="1575">Combinación del modelo</tspan><tspan x="4339.5" y="1589.5">jerárquico y participativo</tspan></text></g>
<g id="negociacion"><rect class="n" x="4254" y="1683" width="172" height="43" rx="8"/><text><tspan x="4340" y="1701.5">La implementación es una</tspan><tspan x="4340" y="1716">negociación interactiva</tspan></text></g>
<g id="responsables"><rect class="n" x="4139" y="1841" width="176" height="42" rx="8"/><text><tspan x="4227" y="1859">Los responsables de poner</tspan><tspan x="4227" y="1873.5">en marcha la política</tspan></text></g>
<g id="quienes"><rect class="n" x="4376" y="1841" width="124" height="39" rx="8"/><text><tspan x="4438" y="1857.5">Quienes controlan</tspan><tspan x="4438" y="1872">los recursos</tspan></text></g>
</g>
</svg>
